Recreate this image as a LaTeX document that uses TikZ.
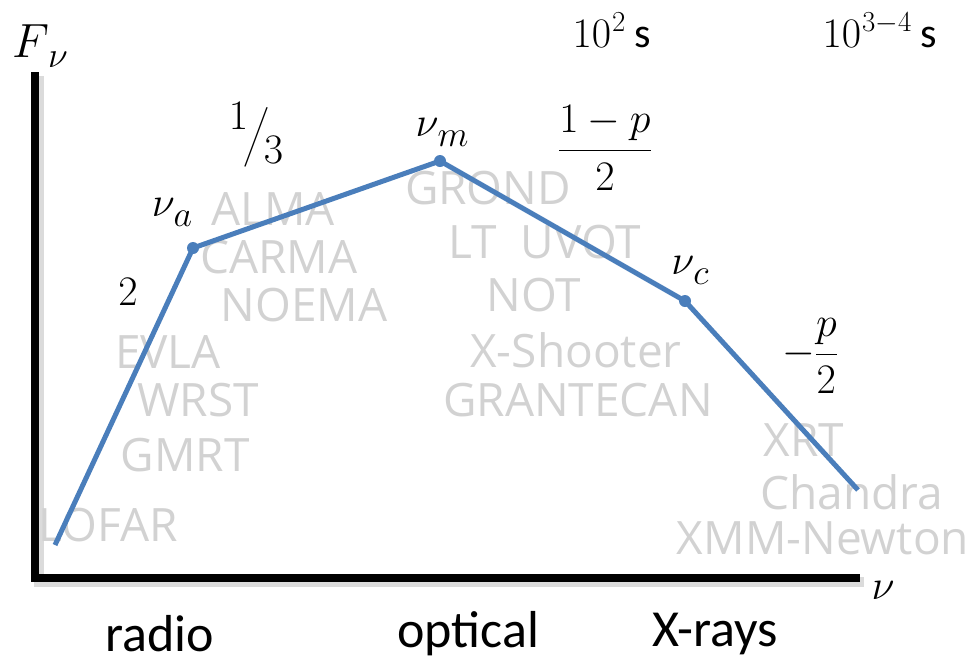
\RequirePackage{fix-cm}
\documentclass[tikz,border=0pt]{standalone}
\usepackage{amsmath}
\usepackage{graphicx}
\usepackage{fontspec}
\setmainfont{Carlito}
\newfontfamily\grayfont{Open Sans}
\newcommand\lowsub[1]{\kern-1pt\raisebox{-10pt}{\fontsize{36}{38}\selectfont$#1$}}
\newcommand\highsup[1]{\kern1pt\raisebox{16pt}{\fontsize{29}{32}\selectfont$#1$}}
\definecolor{curveblue}{HTML}{4A7EBB}
\definecolor{instgray}{HTML}{D2D2D2}
\tikzset{
  inst/.style={font=\grayfont\fontsize{46}{50}\selectfont, text=instgray, inner sep=0pt},
  mlabel/.style={font=\fontsize{42}{48}\selectfont, inner sep=0pt},
  band/.style={font=\fontsize{52}{56}\selectfont, inner sep=0pt},
  axisline/.style={line width=8pt, black},
  axisshadow/.style={line width=10pt, black!14},
  sed/.style={line width=5pt, curveblue, line join=round},
  breakdot/.style={fill=curveblue, circle, inner sep=0pt, minimum size=12pt}
}
\begin{document}
\begin{tikzpicture}[x=1pt,y=-1pt]
\useasboundingbox (0,0) rectangle (975,665);
% axes
\coordinate (ytop) at (35,72);
\coordinate (origin) at (35,578);
\coordinate (xend) at (860,578);
\draw[axisshadow] ([shift={(4,4)}]ytop) -- ([shift={(4,4)}]origin) -- ([shift={(4,4)}]xend);
\draw[axisline] (ytop) -- (origin) -- (xend);
% instrument labels (behind curve)
\node[inst] (alma) at (273,209) {ALMA};
\node[inst] (carma) at (279,257) {CARMA};
\node[inst] (noema) at (304,305) {NOEMA};
\node[inst] (evla) at (168,352) {EVLA};
\node[inst] (wrst) at (198,400) {WRST};
\node[inst] (gmrt) at (185,455) {GMRT};
\node[inst] (lofar) at (108,525) {LOFAR};
\node[inst] (grond) at (488,188) {GROND};
\node[inst] (ltuvot) at (545,242) {LT\ \ UVOT};
\node[inst] (notel) at (534,295) {NOT};
\node[inst] (xshoot) at (576,350) {X-Shooter};
\node[inst] (gtc) at (578,400) {GRANTECAN};
\node[inst] (xrt) at (804,440) {XRT};
\node[inst] (chandra) at (852,492) {Chandra};
\node[inst] (xmm) at (823,538) {XMM-Newton};
% curve
\coordinate (p0) at (55,545);
\coordinate (na) at (193,248);
\coordinate (nm) at (440,161);
\coordinate (nc) at (685,301);
\coordinate (p4) at (858,490);
\draw[sed] (p0) -- (na) -- (nm) -- (nc) -- (p4);
\node[breakdot] (dota) at (na) {};
\node[breakdot] (dotm) at (nm) {};
\node[breakdot] (dotc) at (nc) {};
% math labels
\node[mlabel, font=\fontsize{48}{52}\selectfont] (fnu) at (40,46) {$F$\lowsub{\nu}};
\node[mlabel] (lnua) at (172,212) {$\nu$\lowsub{a}};
\node[mlabel] (lnum) at (442,132) {$\nu$\lowsub{m}};
\node[mlabel] (lnuc) at (690,270) {$\nu$\lowsub{c}};
\node[mlabel] (nuax) at (883,590) {$\nu$};
\node[mlabel] (s2) at (128,292) {$2$};
\node[mlabel] (s13) at (256,135) {$\raisebox{0.45em}{$1$}\kern-0.12em\big/\kern-0.12em\raisebox{-0.35em}{$3$}$};
\node[mlabel] (s1p) at (605,148) {$\dfrac{1-p}{2}$};
\node[mlabel] (smp) at (810,356) {$-\dfrac{p}{2}$};
\node[mlabel] (t2) at (612,30) {$10$\highsup{2}\ s};
\node[mlabel] (t34) at (880,30) {$10$\highsup{3{-}4}\ s};
% band labels
\node[band] (radio) at (160,634) {radio};
\node[band] (optical) at (468,634) {optical};
\node[band] (xrays) at (715,634) {X-rays};
\end{tikzpicture}
\end{document}
